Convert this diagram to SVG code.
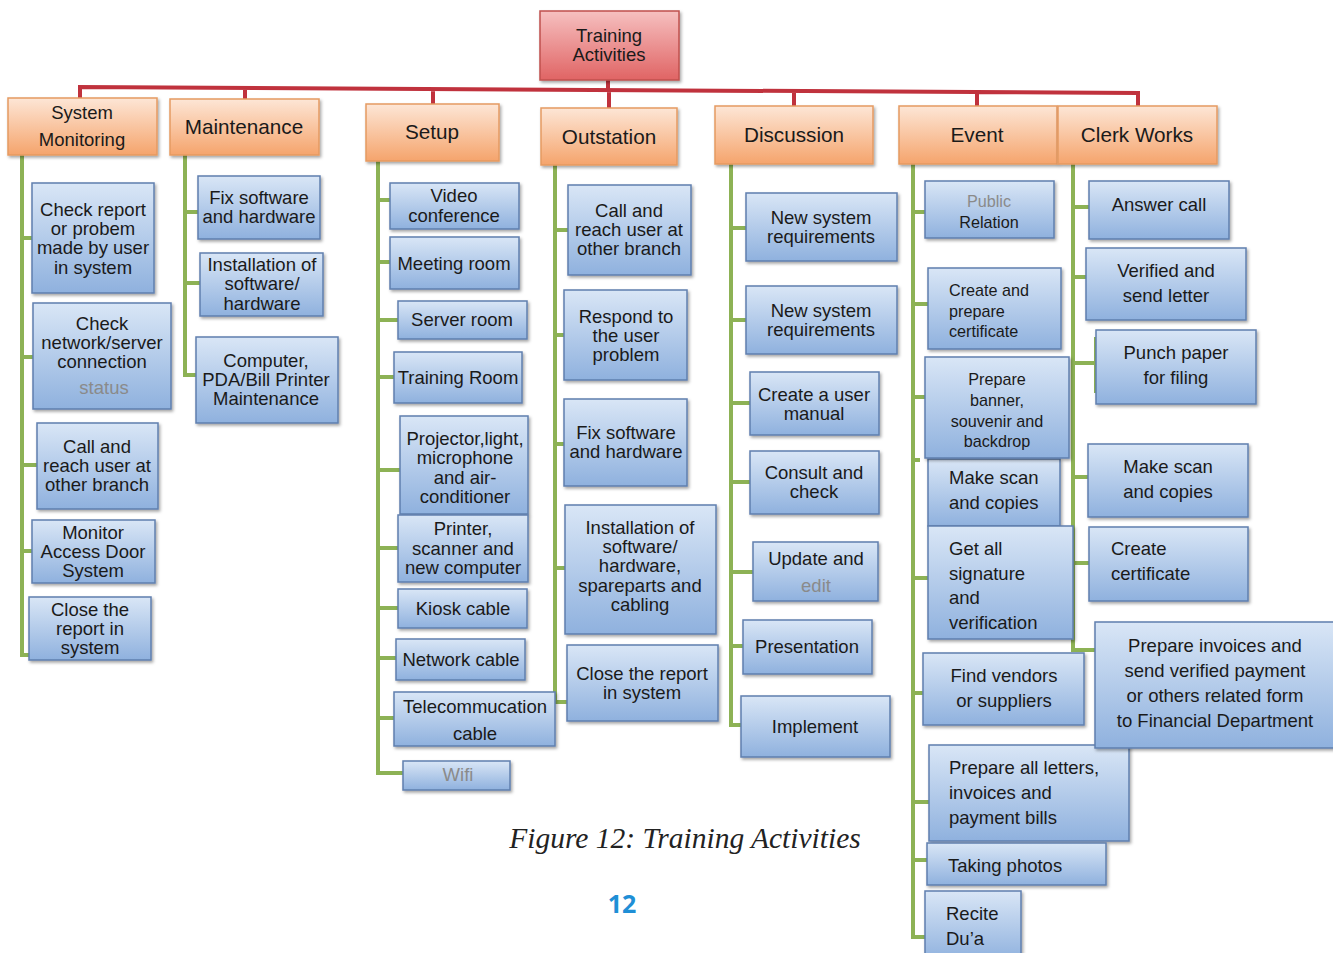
<svg xmlns="http://www.w3.org/2000/svg" width="1333" height="953" viewBox="0 0 1333 953">
<defs>
<linearGradient id="gb" x1="0" y1="0" x2="0" y2="1"><stop offset="0" stop-color="#d9e6f6"/><stop offset="1" stop-color="#8fb1de"/></linearGradient>
<linearGradient id="go" x1="0" y1="0" x2="0" y2="1"><stop offset="0" stop-color="#fde6d6"/><stop offset="1" stop-color="#f5a46c"/></linearGradient>
<linearGradient id="gr" x1="0" y1="0" x2="0" y2="1"><stop offset="0" stop-color="#f6c0c0"/><stop offset="1" stop-color="#e06464"/></linearGradient>
<filter id="sh" x="-10%" y="-10%" width="125%" height="130%"><feDropShadow dx="1.5" dy="2" stdDeviation="1.5" flood-color="#000" flood-opacity="0.35"/></filter>
</defs>
<style>
.b{fill:url(#gb);stroke:#5f7fae;stroke-width:1.5;filter:url(#sh)}
.o{fill:url(#go);stroke:#e59a62;stroke-width:1.5;filter:url(#sh)}
.r{fill:url(#gr);stroke:#c0504d;stroke-width:1.5;filter:url(#sh)}
text{font-family:"Liberation Sans",Arial,sans-serif;fill:#1a1a1a;dominant-baseline:central}
.c{text-anchor:middle;font-size:18.5px}
.l{text-anchor:start;font-size:18.5px}
.s{font-size:16.2px}
.h{text-anchor:middle;font-size:20.7px}
.gy{fill:#8a8a8a}
.g{stroke:#8db255;stroke-width:4;fill:none}
.red{stroke:#c0323d;stroke-width:4;fill:none}
</style>
<rect width="1333" height="953" fill="#ffffff"/>
<g id="connectors">
<path class="red" d="M608 80V90M80 99V87L1138 93V106M245 99V88M433 104V89M609 108V90M794 106V92M977 106V92"/>
<path class="g" d="M22 155V655H29M22 238H32M22 357H33M22 465H37M22 551H32"/>
<path class="g" d="M185 155V375H196M185 212H198M185 283H200"/>
<path class="g" d="M378 161V773H403M378 200H390M378 262H390M378 320H398M378 377H394M378 470H400M378 548H398M378 608H398M378 658H396M378 718H394"/>
<path class="g" d="M555 165V702H567M555 230H568M555 335H564M555 444H564M555 568H565"/>
<path class="g" d="M731 164V725H741M731 228H746M731 320H746M731 403H750M731 482H750M731 572H753M731 646H743"/>
<path class="g" d="M913 164V937H925M913 212H925M913 304H928M913 397H925M913 460H920M913 578H928M913 693H923M913 802H929M913 860H927"/>
<path class="g" d="M1073 164V650H1095M1073 207H1089M1073 277H1086M1073 363H1096M1073 477H1088M1073 563H1089"/>
<path class="g" d="M1096 337V393"/>
</g>
<g id="root"><rect class="r" x="540" y="11" width="139" height="69"/><text class="c" x="609" y="35">Training</text><text class="c" x="609" y="54">Activities</text></g>
<g id="h-sysmon"><rect class="o" x="8" y="98" width="149" height="57"/><text class="c" x="82" y="112">System</text><text class="c" x="82" y="139">Monitoring</text></g>
<g id="h-maint"><rect class="o" x="170" y="99" width="149" height="56"/><text class="h" x="244" y="126">Maintenance</text></g>
<g id="h-setup"><rect class="o" x="366" y="104" width="133" height="57"/><text class="h" x="432" y="131">Setup</text></g>
<g id="h-out"><rect class="o" x="541" y="108" width="136" height="57"/><text class="h" x="609" y="136">Outstation</text></g>
<g id="h-disc"><rect class="o" x="715" y="106" width="158" height="58"/><text class="h" x="794" y="134">Discussion</text></g>
<g id="h-event"><rect class="o" x="899" y="106" width="158" height="58"/><text class="h" x="977" y="134">Event</text></g>
<g id="h-clerk"><rect class="o" x="1058" y="106" width="159" height="58"/><text class="h" x="1137" y="134">Clerk Works</text></g>

<g id="sm1"><rect class="b" x="32" y="183" width="122" height="110"/><text class="c" x="93" y="209">Check report</text><text class="c" x="93" y="228">or probem</text><text class="c" x="93" y="247">made by user</text><text class="c" x="93" y="267">in system</text></g>
<g id="sm2"><rect class="b" x="33" y="303" width="138" height="106"/><text class="c" x="102" y="323">Check</text><text class="c" x="102" y="342">network/server</text><text class="c" x="102" y="361">connection</text><text class="c gy" x="104" y="387">status</text></g>
<g id="sm3"><rect class="b" x="37" y="423" width="121" height="86"/><text class="c" x="97" y="446">Call and</text><text class="c" x="97" y="465">reach user at</text><text class="c" x="97" y="484">other branch</text></g>
<g id="sm4"><rect class="b" x="32" y="520" width="123" height="63"/><text class="c" x="93" y="532">Monitor</text><text class="c" x="93" y="551">Access Door</text><text class="c" x="93" y="570">System</text></g>
<g id="sm5"><rect class="b" x="29" y="597" width="122" height="63"/><text class="c" x="90" y="609">Close the</text><text class="c" x="90" y="628">report in</text><text class="c" x="90" y="647">system</text></g>

<g id="mt1"><rect class="b" x="198" y="176" width="122" height="63"/><text class="c" x="259" y="197">Fix software</text><text class="c" x="259" y="216">and hardware</text></g>
<g id="mt2"><rect class="b" x="200" y="253" width="123" height="63"/><text class="c" x="262" y="264">Installation of</text><text class="c" x="262" y="283">software/</text><text class="c" x="262" y="303">hardware</text></g>
<g id="mt3"><rect class="b" x="196" y="337" width="142" height="86"/><text class="c" x="266" y="360">Computer,</text><text class="c" x="266" y="379">PDA/Bill Printer</text><text class="c" x="266" y="398">Maintenance</text></g>

<g id="su1"><rect class="b" x="390" y="183" width="129" height="46"/><text class="c" x="454" y="195">Video</text><text class="c" x="454" y="215">conference</text></g>
<g id="su2"><rect class="b" x="390" y="237" width="129" height="52"/><text class="c" x="454" y="263">Meeting room</text></g>
<g id="su3"><rect class="b" x="398" y="301" width="129" height="38"/><text class="c" x="462" y="319">Server room</text></g>
<g id="su4"><rect class="b" x="394" y="352" width="128" height="51"/><text class="c" x="458" y="377">Training Room</text></g>
<g id="su5"><rect class="b" x="400" y="416" width="128" height="98"/><text class="c" x="465" y="438">Projector,light,</text><text class="c" x="465" y="457">microphone</text><text class="c" x="465" y="477">and air-</text><text class="c" x="465" y="496">conditioner</text></g>
<g id="su6"><rect class="b" x="398" y="515" width="130" height="67"/><text class="c" x="463" y="528">Printer,</text><text class="c" x="463" y="548">scanner and</text><text class="c" x="463" y="567">new computer</text></g>
<g id="su7"><rect class="b" x="398" y="589" width="129" height="39"/><text class="c" x="463" y="608">Kiosk cable</text></g>
<g id="su8"><rect class="b" x="396" y="639" width="129" height="41"/><text class="c" x="461" y="659">Network cable</text></g>
<g id="su9"><rect class="b" x="394" y="692" width="161" height="54"/><text class="c" x="475" y="706">Telecommucation</text><text class="c" x="475" y="733">cable</text></g>
<g id="su10"><rect class="b" x="403" y="761" width="107" height="29"/><text class="c gy" x="458" y="774">Wifi</text></g>

<g id="os1"><rect class="b" x="568" y="185" width="123" height="90"/><text class="c" x="629" y="210">Call and</text><text class="c" x="629" y="229">reach user at</text><text class="c" x="629" y="248">other branch</text></g>
<g id="os2"><rect class="b" x="564" y="290" width="123" height="90"/><text class="c" x="626" y="316">Respond to</text><text class="c" x="626" y="335">the user</text><text class="c" x="626" y="354">problem</text></g>
<g id="os3"><rect class="b" x="564" y="399" width="123" height="87"/><text class="c" x="626" y="432">Fix software</text><text class="c" x="626" y="451">and hardware</text></g>
<g id="os4"><rect class="b" x="565" y="505" width="151" height="129"/><text class="c" x="640" y="527">Installation of</text><text class="c" x="640" y="546">software/</text><text class="c" x="640" y="565">hardware,</text><text class="c" x="640" y="585">spareparts and</text><text class="c" x="640" y="604">cabling</text></g>
<g id="os5"><rect class="b" x="567" y="645" width="151" height="76"/><text class="c" x="642" y="673">Close the report</text><text class="c" x="642" y="692">in system</text></g>

<g id="di1"><rect class="b" x="746" y="193" width="151" height="68"/><text class="c" x="821" y="217">New system</text><text class="c" x="821" y="236">requirements</text></g>
<g id="di2"><rect class="b" x="746" y="286" width="151" height="68"/><text class="c" x="821" y="310">New system</text><text class="c" x="821" y="329">requirements</text></g>
<g id="di3"><rect class="b" x="750" y="372" width="129" height="63"/><text class="c" x="814" y="394">Create a user</text><text class="c" x="814" y="413">manual</text></g>
<g id="di4"><rect class="b" x="750" y="451" width="129" height="63"/><text class="c" x="814" y="472">Consult and</text><text class="c" x="814" y="491">check</text></g>
<g id="di5"><rect class="b" x="753" y="542" width="125" height="59"/><text class="c" x="816" y="558">Update and</text><text class="c gy" x="816" y="585">edit</text></g>
<g id="di6"><rect class="b" x="743" y="620" width="129" height="54"/><text class="c" x="807" y="646">Presentation</text></g>
<g id="di7"><rect class="b" x="741" y="696" width="149" height="61"/><text class="c" x="815" y="726">Implement</text></g>

<g id="ev1"><rect class="b" x="925" y="181" width="129" height="57"/><text class="c s gy" x="989" y="201">Public</text><text class="c s" x="989" y="222">Relation</text></g>
<g id="ev2"><rect class="b" x="928" y="268" width="133" height="81"/><text class="l s" x="949" y="290">Create and</text><text class="l s" x="949" y="311">prepare</text><text class="l s" x="949" y="331">certificate</text></g>
<g id="ev4"><rect class="b" x="928" y="459" width="132" height="67"/><text class="l" x="949" y="477">Make scan</text><text class="l" x="949" y="502">and copies</text></g>
<g id="ev3"><rect class="b" x="925" y="357" width="144" height="101"/><text class="c s" x="997" y="379">Prepare</text><text class="c s" x="997" y="400">banner,</text><text class="c s" x="997" y="421">souvenir and</text><text class="c s" x="997" y="441">backdrop</text></g>
<g id="ev5"><rect class="b" x="928" y="526" width="145" height="113"/><text class="l" x="949" y="548">Get all</text><text class="l" x="949" y="573">signature</text><text class="l" x="949" y="597">and</text><text class="l" x="949" y="622">verification</text></g>
<g id="ev6"><rect class="b" x="923" y="653" width="161" height="72"/><text class="c" x="1004" y="675">Find vendors</text><text class="c" x="1004" y="700">or suppliers</text></g>
<g id="ev7"><rect class="b" x="929" y="745" width="200" height="96"/><text class="l" x="949" y="767">Prepare all letters,</text><text class="l" x="949" y="792">invoices and</text><text class="l" x="949" y="817">payment bills</text></g>
<g id="ev8"><rect class="b" x="927" y="843" width="179" height="42"/><text class="l" x="948" y="865">Taking photos</text></g>
<g id="ev9"><rect class="b" x="925" y="891" width="96" height="70"/><text class="l" x="946" y="913">Recite</text><text class="l" x="946" y="938">Du’a</text></g>

<g id="cw1"><rect class="b" x="1089" y="181" width="140" height="58"/><text class="c" x="1159" y="204">Answer call</text></g>
<g id="cw2"><rect class="b" x="1086" y="248" width="160" height="72"/><text class="c" x="1166" y="270">Verified and</text><text class="c" x="1166" y="295">send letter</text></g>
<g id="cw3"><rect class="b" x="1096" y="330" width="160" height="74"/><text class="c" x="1176" y="352">Punch paper</text><text class="c" x="1176" y="377">for filing</text></g>
<g id="cw4"><rect class="b" x="1088" y="444" width="160" height="73"/><text class="c" x="1168" y="466">Make scan</text><text class="c" x="1168" y="491">and copies</text></g>
<g id="cw5"><rect class="b" x="1089" y="527" width="159" height="74"/><text class="l" x="1111" y="548">Create</text><text class="l" x="1111" y="573">certificate</text></g>
<g id="cw6"><rect class="b" x="1095" y="622" width="245" height="126"/><text class="c" x="1215" y="645">Prepare invoices and</text><text class="c" x="1215" y="670">send verified payment</text><text class="c" x="1215" y="695">or others related form</text><text class="c" x="1215" y="720">to Financial Department</text></g>

<text x="685" y="838" style="font-family:'Liberation Serif','Times New Roman',serif;font-style:italic;font-size:29.5px;text-anchor:middle;fill:#222">Figure 12: Training Activities</text>
<text x="622" y="903" style="font-family:'Open Sans','Liberation Sans',sans-serif;font-weight:bold;font-size:25px;text-anchor:middle;fill:#1f8fd6">12</text>
</svg>
